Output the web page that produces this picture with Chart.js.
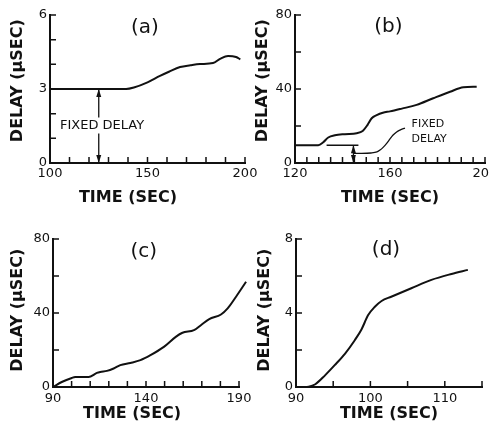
<!DOCTYPE html>
<html>
<head>
<meta charset="utf-8">
<script src="https://cdn.jsdelivr.net/npm/chart.js@4"></script>
<style>
  body { margin: 0; background: #fff; overflow: hidden; width: 490px; height: 421px; position: relative; }
  canvas { position: absolute; }
</style>
</head>
<body>
<canvas id="chartA" width="262" height="210" style="left:0;top:0"></canvas>
<canvas id="chartB" width="262" height="210" style="left:245px;top:0"></canvas>
<canvas id="chartC" width="262" height="220" style="left:0;top:210px"></canvas>
<canvas id="chartD" width="262" height="220" style="left:245px;top:210px"></canvas>
<script>
// panel (a)
const aTime = [100, 139, 143, 150, 156.4, 161, 166.7, 172, 176.9, 183.6, 187.2, 191.3, 195.4, 197.6];
const aDelay = [3, 3, 3.06, 3.27, 3.53, 3.7, 3.89, 3.96, 4.01, 4.05, 4.22, 4.34, 4.3, 4.2];
// panel (b)
const bTime = [120, 129.8, 131.9, 134, 136.8, 141, 146, 148.5, 150.5, 152.3, 154.4, 157, 160, 165, 171.2, 178.2, 185.3, 190.9, 196.5];
const bDelay = [9.6, 9.6, 11.2, 13.8, 15, 15.6, 16.1, 17.3, 20.5, 24.2, 25.9, 27.2, 27.9, 29.4, 31.4, 35, 38.5, 40.9, 41.2];
const bFixedTime = [144.5, 148, 152, 154.5, 155.8, 157.2, 158.6, 160, 161.3, 162.8, 164.2, 166.3];
const bFixedDelay = [5.2, 5.2, 5.4, 6.0, 7.0, 8.6, 10.6, 13.0, 15.1, 16.8, 17.8, 18.9];
// panel (c)
const cTime = [90, 94.7, 100.1, 101.9, 109.1, 113.6, 115.4, 119, 122.6, 126.2, 131.6, 137, 142.4, 149.6, 156, 159.6, 165.8, 169.5, 174, 180.3, 183.9, 188.4, 193.8];
const cDelay = [0, 2.7, 4.9, 5.4, 5.4, 7.6, 8.1, 8.7, 10, 11.8, 13, 14.5, 17.2, 21.7, 27.1, 29.3, 30.7, 33.4, 36.7, 39.2, 42.5, 48.8, 56.9];
// panel (d)
const dTime = [90.9, 91.7, 92.6, 93.9, 95.2, 96.6, 97.9, 98.8, 99.7, 100.6, 101.5, 102.8, 105.5, 108.2, 110.9, 113.1];
const dDelay = [0, 0.02, 0.15, 0.63, 1.18, 1.81, 2.53, 3.11, 3.89, 4.34, 4.65, 4.88, 5.34, 5.79, 6.11, 6.33];

const ink = '#111';
const fam = '"DejaVu Sans", sans-serif';

function pts(xs, ys) {
    return xs.map((x, i) => ({x: x, y: ys[i]}));
}

function curve(xs, ys, w) {
    return {
        data: pts(xs, ys),
        borderColor: ink,
        borderWidth: w || 2,
        pointRadius: 0,
        cubicInterpolationMode: 'monotone',
        clip: false
    };
}

// tick marks point inward, as in the figure
const inwardTicks = {
    id: 'inwardTicks',
    afterDatasetsDraw(chart) {
        const ctx = chart.ctx, area = chart.chartArea;
        const xs = chart.scales.x, ys = chart.scales.y;
        ctx.save();
        ctx.strokeStyle = ink;
        ctx.lineWidth = 1.5;
        ctx.beginPath();
        xs.ticks.forEach(t => {
            const px = xs.getPixelForValue(t.value);
            ctx.moveTo(px, area.bottom);
            ctx.lineTo(px, area.bottom - 6);
        });
        ys.ticks.forEach(t => {
            const py = ys.getPixelForValue(t.value);
            ctx.moveTo(area.left, py);
            ctx.lineTo(area.left + 6, py);
        });
        ctx.stroke();
        ctx.restore();
    }
};

function head(ctx, x, y, dir) {
    ctx.beginPath();
    ctx.moveTo(x, y);
    ctx.lineTo(x - 2.5, y - dir * 8);
    ctx.lineTo(x + 2.5, y - dir * 8);
    ctx.closePath();
    ctx.fill();
}

function doubleArrow(ctx, x, yTop, yBot) {
    ctx.beginPath();
    ctx.moveTo(x, yTop);
    ctx.lineTo(x, yBot);
    ctx.stroke();
    head(ctx, x, yTop, -1);
    head(ctx, x, yBot, 1);
}

function notes(label, lx, ly, extra) {
    return {
        id: 'notes',
        afterDraw(chart) {
            const ctx = chart.ctx;
            const xs = chart.scales.x, ys = chart.scales.y;
            ctx.save();
            ctx.fillStyle = ink;
            ctx.strokeStyle = ink;
            ctx.font = '20px ' + fam;
            ctx.textAlign = 'center';
            ctx.textBaseline = 'middle';
            ctx.fillText(label, xs.getPixelForValue(lx), ys.getPixelForValue(ly));
            if (extra) extra(ctx, xs, ys);
            ctx.restore();
        }
    };
}

function makeChart(id, p) {
    return new Chart(document.getElementById(id), {
        type: 'line',
        data: {datasets: p.datasets},
        options: {
            responsive: false,
            animation: false,
            layout: {padding: {top: p.padTop, right: p.padRight, left: 0, bottom: 0}},
            plugins: {legend: {display: false}, tooltip: {enabled: false}},
            scales: {
                x: {
                    type: 'linear',
                    min: p.xMin, max: p.xMax,
                    afterFit: s => { s.height = p.xH; },
                    grid: {display: true, drawOnChartArea: false, drawTicks: false},
                    border: {display: true, color: ink, width: 2},
                    ticks: {
                        stepSize: p.xStep, autoSkip: false, maxRotation: 0, padding: p.xPad,
                        color: ink, font: {family: fam, size: 13},
                        callback: v => (Math.abs((v - p.xMin) % p.xLabel) < 1e-6 ? v : '')
                    },
                    title: {
                        display: true, text: p.xTitle, color: ink,
                        font: {family: fam, size: 16, weight: 'bold'},
                        padding: {top: 0, bottom: p.xTitlePad}
                    }
                },
                y: {
                    min: p.yMin, max: p.yMax,
                    afterFit: s => { s.width = p.yW; },
                    grid: {display: true, drawOnChartArea: false, drawTicks: false},
                    border: {display: true, color: ink, width: 2},
                    ticks: {
                        stepSize: p.yStep, autoSkip: false, padding: 3,
                        color: ink, font: {family: fam, size: 13},
                        callback: v => (Math.abs(v % p.yLabel) < 1e-6 ? v : '')
                    },
                    title: {
                        display: true, text: p.yTitle, color: ink,
                        font: {family: fam, size: 16, weight: 'bold'},
                        padding: {top: p.yTitlePad, bottom: 0}
                    }
                }
            }
        },
        plugins: [inwardTicks, p.notes]
    });
}

makeChart('chartA', {
    datasets: [curve(aTime, aDelay)],
    xMin: 100, xMax: 200, xStep: 10, xLabel: 50,
    yMin: 0, yMax: 6, yStep: 1, yLabel: 3,
    xH: 47, yW: 50, padTop: 15, padRight: 17, xPad: 3, xTitlePad: 3, yTitlePad: 8,
    xTitle: 'TIME (SEC)       ',
    yTitle: '   DELAY (μSEC)',
    notes: notes('(a)', 148.7, 5.5, (ctx, xs, ys) => {
        const ax = xs.getPixelForValue(125);
        ctx.lineWidth = 1.3;
        doubleArrow(ctx, ax, ys.getPixelForValue(3), ys.getPixelForValue(0));
        const tx = xs.getPixelForValue(126.7), ty = ys.getPixelForValue(1.52);
        ctx.font = '13px ' + fam;
        const w = ctx.measureText('FIXED DELAY').width;
        ctx.fillStyle = '#fff';
        ctx.fillRect(tx - w / 2 - 2, ty - 8, w + 4, 16);
        ctx.fillStyle = ink;
        ctx.fillText('FIXED DELAY', tx, ty);
    })
});

makeChart('chartB', {
    datasets: [curve(bTime, bDelay), curve(bFixedTime, bFixedDelay, 1.3)],
    xMin: 120, xMax: 200, xStep: 5, xLabel: 40,
    yMin: 0, yMax: 80, yStep: 20, yLabel: 40,
    xH: 47, yW: 50, padTop: 15, padRight: 22, xPad: 3, xTitlePad: 3, yTitlePad: 8,
    xTitle: 'TIME (SEC)',
    yTitle: '   DELAY (μSEC)',
    notes: notes('(b)', 159.3, 73.5, (ctx, xs, ys) => {
        const y0 = ys.getPixelForValue(9.6);
        ctx.lineWidth = 1.5;
        ctx.beginPath();
        ctx.moveTo(xs.getPixelForValue(133.3), y0);
        ctx.lineTo(xs.getPixelForValue(146.7), y0);
        ctx.stroke();
        ctx.lineWidth = 1.3;
        doubleArrow(ctx, xs.getPixelForValue(144.6), y0, ys.getPixelForValue(0));
        ctx.font = '11px ' + fam;
        ctx.textAlign = 'left';
        ctx.fillText('FIXED', xs.getPixelForValue(169.1), ys.getPixelForValue(21.1));
        ctx.fillText('DELAY', xs.getPixelForValue(169.1), ys.getPixelForValue(13));
    })
});

makeChart('chartC', {
    datasets: [curve(cTime, cDelay)],
    xMin: 90, xMax: 190, xStep: 10, xLabel: 50,
    yMin: 0, yMax: 80, yStep: 20, yLabel: 40,
    xH: 43, yW: 53, padTop: 29, padRight: 23, xPad: 4, xTitlePad: 7, yTitlePad: 8,
    xTitle: 'TIME (SEC)     ',
    yTitle: ' DELAY (μSEC)',
    notes: notes('(c)', 138.8, 73.1)
});

makeChart('chartD', {
    datasets: [curve(dTime, dDelay)],
    xMin: 90, xMax: 115, xStep: 5, xLabel: 10,
    yMin: 0, yMax: 8, yStep: 2, yLabel: 4,
    xH: 43, yW: 51, padTop: 29, padRight: 25, xPad: 4, xTitlePad: 7, yTitlePad: 10,
    xTitle: 'TIME (SEC)',
    yTitle: ' DELAY (μSEC)',
    notes: notes('(d)', 102.1, 7.4)
});
</script>
</body>
</html>
